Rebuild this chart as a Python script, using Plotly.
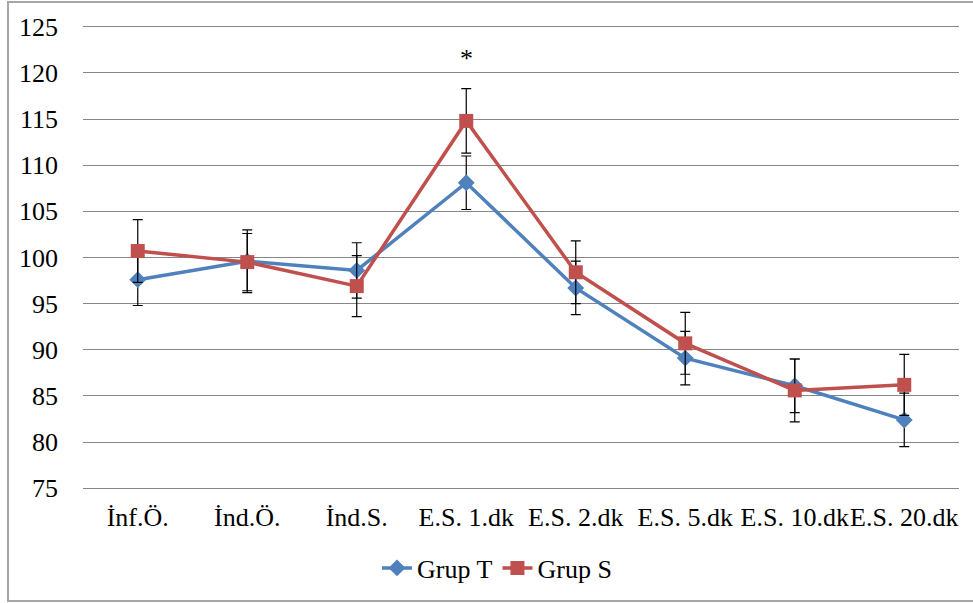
import plotly.graph_objects as go

categories = ["İnf.Ö.", "İnd.Ö.", "İnd.S.", "E.S. 1.dk", "E.S. 2.dk", "E.S. 5.dk", "E.S. 10.dk", "E.S. 20.dk"]
grup_t = [97.6, 99.6, 98.6, 108.1, 96.7, 89.1, 86.1, 82.4]
grup_t_err = [2.8, 3.4, 3.0, 2.9, 2.9, 2.9, 2.9, 2.9]
grup_s = [100.7, 99.5, 96.9, 114.8, 98.4, 90.7, 85.6, 86.2]
grup_s_err = [3.4, 3.1, 3.3, 3.5, 3.4, 3.35, 3.4, 3.3]
y_ticks = [75, 80, 85, 90, 95, 100, 105, 110, 115, 120, 125]
star_label = "*"
star_category = "E.S. 1.dk"
star_value = 121.7

FONT = "Liberation Serif"
FS = 26
W, H = 973, 603
# y=125 at ~26.7px, y=75 at ~488.3px; range padded slightly so edge gridlines draw
L, R, T, B = 83, 14, 24, 112
pw = W - L - R
ph = H - T - B


def px_x(p):
    return (p - L) / pw


def px_y(p):
    return (H - B - p) / ph


fig = go.Figure()
fig.add_trace(go.Scatter(
    x=categories, y=grup_t, name="Grup T", mode="lines+markers",
    line=dict(color="#4F81BD", width=3.5),
    marker=dict(symbol="diamond", size=13, color="#4F81BD"),
    error_y=dict(type="data", array=grup_t_err, visible=True, color="black", thickness=1.2, width=5),
))
fig.add_trace(go.Scatter(
    x=categories, y=grup_s, name="Grup S", mode="lines+markers",
    line=dict(color="#C0504D", width=3.5),
    marker=dict(symbol="square", size=14, color="#C0504D"),
    error_y=dict(type="data", array=grup_s_err, visible=True, color="black", thickness=1.2, width=5),
))

fig.add_annotation(x=star_category, y=star_value, text=star_label, showarrow=False,
                   font=dict(family=FONT, size=FS, color="black"), yanchor="middle", yshift=-1)

# outer chart border (left, top, bottom visible; right edge runs off the page)
xl, xr = px_x(8), px_x(990)
yb, yt = px_y(601), px_y(2)
fig.add_shape(type="path", xref="paper", yref="paper",
              path=f"M {xr},{yb} L {xl},{yb} L {xl},{yt} L {xr},{yt}",
              line=dict(color="#A6A6A6", width=2), layer="below")

fig.update_layout(
    width=W, height=H, autosize=False,
    margin=dict(l=L, r=R, t=T, b=B, pad=0, autoexpand=False),
    paper_bgcolor="white", plot_bgcolor="white",
    font=dict(family=FONT, size=FS, color="black"),
    template="none",
    showlegend=True,
    legend=dict(orientation="h", x=px_x(497), xanchor="center",
                y=px_y(568), yanchor="middle",
                font=dict(family=FONT, size=FS), bgcolor="rgba(0,0,0,0)",
                itemwidth=30, tracegroupgap=0),
)
fig.update_xaxes(type="category", categoryorder="array", categoryarray=categories,
                 showgrid=False, zeroline=False, showline=False, ticks="", automargin=False,
                 tickangle=0, ticklabelstandoff=8, range=[-0.5, len(categories) - 0.5],
                 tickfont=dict(family=FONT, size=FS, color="black"))
fig.update_yaxes(range=[74.7, 125.3], tickmode="array", tickvals=y_ticks,
                 showgrid=True, gridcolor="#868686", gridwidth=1,
                 zeroline=False, showline=False, ticks="", automargin=False, ticklabelstandoff=24,
                 tickfont=dict(family=FONT, size=FS, color="black"))

fig.write_html("out.html", config={"displayModeBar": False},
               post_script="document.body.style.margin='0';")
